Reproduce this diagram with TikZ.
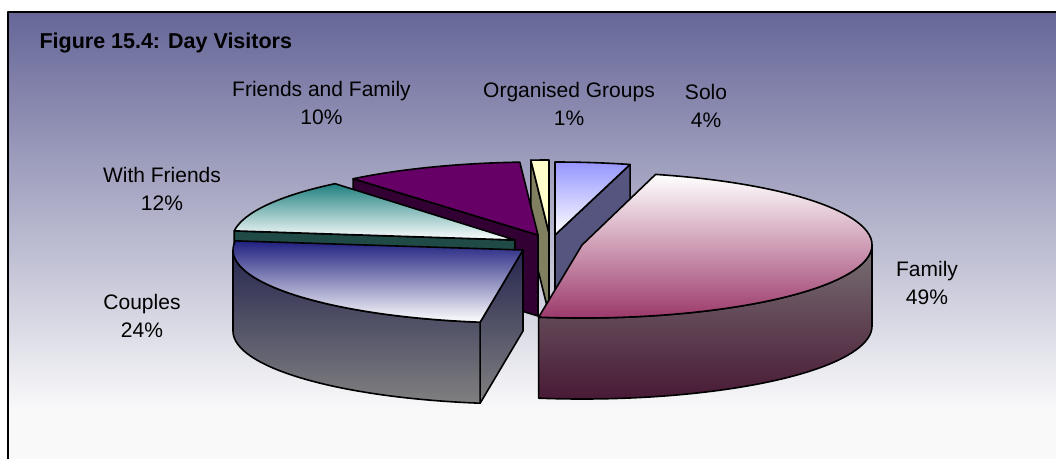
\documentclass[tikz,border=0pt]{standalone}
\usepackage{fontspec}
\setmainfont{Liberation Sans}
\usetikzlibrary{calc}
\definecolor{bgtop}{RGB}{102,102,152}
\definecolor{bgbot}{RGB}{249,249,250}
\definecolor{solotop}{RGB}{150,150,255}
\definecolor{soloside}{RGB}{85,85,128}
\definecolor{orgtop}{RGB}{255,255,204}
\definecolor{orgside}{RGB}{128,128,96}
\definecolor{fftop}{RGB}{102,0,102}
\definecolor{ffside}{RGB}{51,0,51}
\definecolor{wftop}{RGB}{32,128,128}
\definecolor{wfmid}{RGB}{165,200,200}
\definecolor{wfside}{RGB}{32,74,70}
\definecolor{cpltop}{RGB}{32,32,128}
\definecolor{cplmid}{RGB}{185,185,215}
\definecolor{cplsidetop}{RGB}{38,38,80}
\definecolor{cplsidebot}{RGB}{128,128,128}
\definecolor{famtop}{RGB}{153,51,102}
\definecolor{fammid}{RGB}{222,190,203}
\definecolor{famsidetop}{RGB}{120,112,116}
\definecolor{famsidebot}{RGB}{72,24,52}
\begin{document}
\begin{tikzpicture}[x=1pt,y=-1pt,line join=round,
  face/.style={draw=black,line width=1.6pt},
  lbl/.style={font=\fontsize{21}{28}\selectfont,align=center,inner sep=0pt,text=black},
  ttl/.style={font=\fontsize{21.5}{26}\selectfont\bfseries,inner sep=0pt,text=black}]
\useasboundingbox (0,0) rectangle (1056,459);
% background
\fill[bgbot] (8,12) rectangle (1056,459);
\shade[top color=bgtop,bottom color=bgbot] (8,12) rectangle (1056,410);
\draw[line width=2pt] (8,459) -- (8,12) -- (1056,12);
% centres of the exploded slices
\coordinate (cSolo) at (555,235);
\coordinate (cOrg) at (549,233);
\coordinate (cFF) at (538,235);
\coordinate (cWF) at (515,240);
\coordinate (cCpl) at (523,250);
\coordinate (cFam) at (582,245);
% Organised Groups
\path[face,fill=orgside] (cOrg) -- ++(266.4:290 and 73) -- ++(0,81) -- ($(cOrg)+(0,81)$) -- cycle;
\path[face,fill=orgtop] (cOrg) -- ++(266.4:290 and 73) arc[start angle=266.4,end angle=270,x radius=290,y radius=73] -- cycle;
% Friends and Family
\path[face,fill=ffside] (cFF) -- ++(230.4:290 and 73) -- ++(0,81) -- ($(cFF)+(0,81)$) -- cycle;
\path[face,fill=fftop] (cFF) -- ++(230.4:290 and 73) arc[start angle=230.4,end angle=266.4,x radius=290,y radius=73] -- cycle;
% With Friends
\path[face,fill=wfside] (cWF) -- ++(187.2:283 and 73) -- ++(0,81) -- ($(cWF)+(0,81)$) -- cycle;
\path[face,top color=wftop,middle color=wfmid,bottom color=white] (cWF) -- ++(187.2:283 and 73) arc[start angle=187.2,end angle=230.5,x radius=283,y radius=73] -- cycle;
% Solo
\path[face,fill=soloside] (cSolo) -- ++(-75:290 and 73) -- ++(0,81) -- ($(cSolo)+(0,81)$) -- cycle;
\path[face,top color=solotop,bottom color=white] (cSolo) -- ++(-90:290 and 73) arc[start angle=-90,end angle=-75,x radius=290,y radius=73] -- cycle;
% Couples
\path[face,top color=cplsidetop,bottom color=cplsidebot] (cCpl) -- ++(98.5:290 and 73) -- ++(0,81) -- ($(cCpl)+(0,81)$) -- cycle;
\path[face,top color=cplsidetop,bottom color=cplsidebot] (cCpl) ++(98.5:290 and 73) arc[start angle=98.5,end angle=180,x radius=290,y radius=73] -- ++(0,81) arc[start angle=180,end angle=98.5,x radius=290,y radius=73] -- cycle;
\path[face,top color=cpltop,middle color=cplmid,bottom color=white] (cCpl) -- ++(187.2:290 and 73) arc[start angle=187.2,end angle=98.5,x radius=290,y radius=73] -- cycle;
% Family
\path[face,top color=famsidetop,bottom color=famsidebot] (cFam) ++(0:290 and 73) arc[start angle=0,end angle=98.6,x radius=290,y radius=73] -- ++(0,81) arc[start angle=98.6,end angle=0,x radius=290,y radius=73] -- cycle;
\path[face,top color=white,middle color=fammid,bottom color=famtop] (cFam) -- ++(-75.3:290 and 73) arc[start angle=-75.3,end angle=98.6,x radius=290,y radius=73] -- cycle;
% texts
\node[ttl,anchor=base west] (title) at (39.3,48.4) {Figure 15.4: Day Visitors};
\node[lbl] (lFF) at (321.5,103.3) {Friends and Family\\10\%};
\node[lbl] (lOrg) at (569,103.5) {Organised Groups\\1\%};
\node[lbl] (lSolo) at (706,106) {Solo\\4\%};
\node[lbl] (lWF) at (162,189.3) {With Friends\\12\%};
\node[lbl] (lFam) at (927,283) {Family\\49\%};
\node[lbl] (lCpl) at (142,315.8) {Couples\\24\%};
\end{tikzpicture}
\end{document}
